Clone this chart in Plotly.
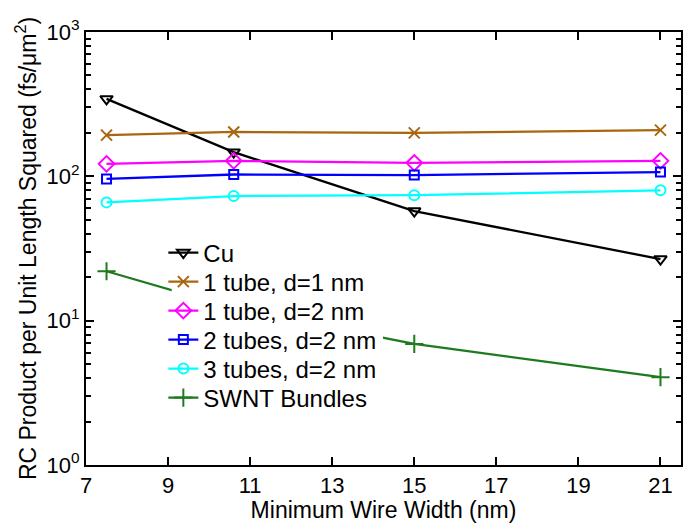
import plotly.graph_objects as go

# Minimum wire width (nm)
widths = [7.5, 10.6, 15, 21]

# RC product per unit length squared (fs/um^2)
cu = [344, 147, 57.5, 26.7]
tube1_d1 = [193, 203, 200, 209]
tube1_d2 = [122, 128, 124, 128]
tubes2_d2 = [96, 103, 102, 107]
tubes3_d2 = [66, 73, 74, 80]
swnt_bundles = [22, 12.2, 6.9, 4.06]

y_major = [1, 10, 100, 1000]
y_major_text = ["10<sup>0</sup>", "10<sup>1</sup>", "10<sup>2</sup>", "10<sup>3</sup>"]
y_minor = [m * 10 ** e for e in range(3) for m in range(2, 10)]
x_ticks = [7, 9, 11, 13, 15, 17, 19, 21]

series = [
    ("Cu", cu, "#000000", "triangle-down-open", 11),
    ("1 tube, d=1 nm", tube1_d1, "#A8660E", "x-thin-open", 11),
    ("1 tube, d=2 nm", tube1_d2, "#FF00FF", "diamond-open", 12),
    ("2 tubes, d=2 nm", tubes2_d2, "#0000FF", "square-open", 9),
    ("3 tubes, d=2 nm", tubes3_d2, "#00FFFF", "circle-open", 10),
    ("SWNT Bundles", swnt_bundles, "#1E7A1E", "cross-thin-open", 13),
]

font_family = "Liberation Sans, Arial, sans-serif"

# plot area in pixels: left 86, right 683, top 32, bottom 465
plot_l, plot_r, plot_t, plot_b = 86, 683, 32, 465
plot_w, plot_h = plot_r - plot_l, plot_b - plot_t

fig = go.Figure()
legend_layouts = {}
row_top, row_step = 253, 29
for i, (name, vals, color, symbol, size) in enumerate(series):
    key = "legend" if i == 0 else f"legend{i + 1}"
    fig.add_trace(go.Scatter(
        x=widths, y=vals, name=name, mode="lines+markers",
        line=dict(color=color, width=2.3),
        marker=dict(symbol=symbol, size=size, color=color,
                    line=dict(color=color, width=2)),
        legend=key,
    ))
    yc = row_top + i * row_step
    legend_layouts[key] = dict(
        x=0.13, y=(plot_b - yc) / plot_h, xanchor="left", yanchor="middle",
        bgcolor="rgba(0,0,0,0)", borderwidth=0,
        font=dict(size=24, color="black", family=font_family),
        itemwidth=30,
    )

# white backing panel behind the legend entries
fig.add_shape(
    type="rect", xref="paper", yref="paper", layer="above",
    x0=(172 - plot_l) / plot_w, x1=(384 - plot_l) / plot_w,
    y0=(plot_b - 412) / plot_h, y1=(plot_b - 238) / plot_h,
    fillcolor="white", line=dict(width=0),
)

fig.update_layout(
    width=689, height=523,
    margin=dict(l=plot_l, r=689 - plot_r, t=plot_t, b=523 - plot_b),
    paper_bgcolor="white", plot_bgcolor="white",
    font=dict(family=font_family, size=22, color="black"),
    showlegend=True,
    xaxis=dict(
        range=[7, 21.5], tickvals=x_ticks,
        ticks="inside", ticklen=8, tickwidth=1.5, tickcolor="black",
        showline=True, linecolor="black", linewidth=2, mirror="ticks",
        showgrid=False, zeroline=False,
        title=dict(text="Minimum Wire Width (nm)", font=dict(size=23), standoff=0),
    ),
    yaxis=dict(
        type="log", range=[0, 3],
        tickmode="array", tickvals=y_major, ticktext=y_major_text,
        ticks="inside", ticklen=8, tickwidth=1.5, tickcolor="black",
        minor=dict(tickmode="array", tickvals=y_minor, ticks="inside",
                   ticklen=5, tickwidth=1.5, tickcolor="black", showgrid=False),
        showline=True, linecolor="black", linewidth=2, mirror="ticks",
        showgrid=False, zeroline=False,
        title=dict(text="RC Product per Unit Length Squared (fs/μm<sup>2</sup>)",
                   font=dict(size=23), standoff=4),
    ),
    **legend_layouts,
)

fig.write_html("out.html")
